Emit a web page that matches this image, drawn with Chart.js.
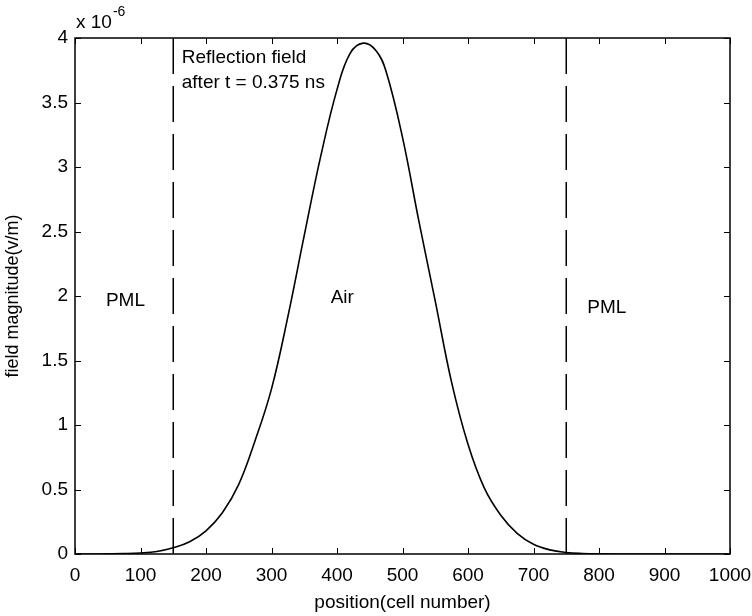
<!DOCTYPE html>
<html>
<head>
<meta charset="utf-8">
<script src="https://cdn.jsdelivr.net/npm/chart.js@4"></script>
<style>
  html, body { margin: 0; padding: 0; background: #fff; }
  #wrap { width: 752px; height: 616px; }
</style>
</head>
<body>
<div id="wrap"><canvas id="fieldChart" width="752" height="616"></canvas></div>
<script>
// position along the grid (cell number)
const positions = [0, 25, 50, 75, 100, 125, 150, 175, 200, 225, 250, 275, 300, 325, 350, 375, 400, 420, 440, 460, 475, 500, 525, 550, 575, 600, 625, 650, 675, 700, 725, 750, 775, 800, 850, 900, 1000];
// field magnitude, in units of 1e-6 v/m
const magnitude = [0, 0, 0.001, 0.003, 0.008, 0.02, 0.048, 0.095, 0.18, 0.32, 0.54, 0.88, 1.28, 1.84, 2.47, 3.08, 3.60, 3.88, 3.96, 3.90, 3.74, 3.23, 2.58, 1.96, 1.33, 0.85, 0.51, 0.30, 0.16, 0.075, 0.032, 0.012, 0.004, 0.001, 0, 0, 0];
// PML boundaries
const boundaries = [150, 750];
const xTicks = [0, 100, 200, 300, 400, 500, 600, 700, 800, 900, 1000];
const yTicks = [0, 0.5, 1, 1.5, 2, 2.5, 3, 3.5, 4];

const FONT = "'Liberation Sans', Arial, Helvetica, sans-serif";

const curve = positions.map((p, i) => ({x: p, y: magnitude[i]}));
const boundaryLines = boundaries.map(b => ({
    data: [{x: b, y: 0}, {x: b, y: 4}],
    borderColor: '#000',
    borderWidth: 1.5,
    borderDash: [36, 12],
    pointRadius: 0,
    fill: false
}));

// box, inward ticks and text annotations, matlab style
const matlabBox = {
    id: 'matlabBox',
    afterDraw(chart) {
        const ctx = chart.ctx;
        const a = chart.chartArea;
        const xs = chart.scales.x, ys = chart.scales.y;
        ctx.save();
        ctx.strokeStyle = '#000';
        ctx.lineWidth = 1.5;
        ctx.strokeRect(a.left, a.top, a.right - a.left, a.bottom - a.top);
        ctx.lineWidth = 1;
        ctx.beginPath();
        xTicks.forEach(t => {
            const px = Math.round(xs.getPixelForValue(t)) + 0.5;
            ctx.moveTo(px, a.bottom); ctx.lineTo(px, a.bottom - 6);
            ctx.moveTo(px, a.top); ctx.lineTo(px, a.top + 6);
        });
        yTicks.forEach(t => {
            const py = Math.round(ys.getPixelForValue(t)) + 0.5;
            ctx.moveTo(a.left, py); ctx.lineTo(a.left + 6, py);
            ctx.moveTo(a.right, py); ctx.lineTo(a.right - 6, py);
        });
        ctx.stroke();

        ctx.fillStyle = '#000';
        ctx.font = '19px ' + FONT;
        ctx.textBaseline = 'middle';
        ctx.textAlign = 'center';
        ctx.fillText('PML', xs.getPixelForValue(77), ys.getPixelForValue(1.96));
        ctx.fillText('Air', xs.getPixelForValue(408), ys.getPixelForValue(1.99));
        ctx.fillText('PML', xs.getPixelForValue(812), ys.getPixelForValue(1.91));
        ctx.textAlign = 'left';
        ctx.textBaseline = 'alphabetic';
        ctx.fillText('Reflection field', xs.getPixelForValue(163), ys.getPixelForValue(3.81));
        ctx.fillText('after t = 0.375 ns', xs.getPixelForValue(163), ys.getPixelForValue(3.61));

        // exponent above the y axis
        ctx.fillText('x 10', a.left + 1, a.top - 10);
        const w = ctx.measureText('x 10').width;
        ctx.font = '14px ' + FONT;
        ctx.fillText('-6', a.left + 2 + w, a.top - 22);
        ctx.restore();
    }
};

new Chart(document.getElementById('fieldChart').getContext('2d'), {
    type: 'line',
    data: {
        datasets: [{
            data: curve,
            borderColor: '#000',
            borderWidth: 1.6,
            pointRadius: 0,
            tension: 0.4,
            fill: false
        }, ...boundaryLines]
    },
    options: {
        responsive: false,
        animation: false,
        layout: {padding: {top: 38, right: 0, left: 0, bottom: 0}},
        plugins: {legend: {display: false}, tooltip: {enabled: false}},
        scales: {
            x: {
                type: 'linear',
                min: 0,
                max: 1000,
                afterBuildTicks: s => { s.ticks = xTicks.map(v => ({value: v})); },
                afterFit: s => { s.height = 62; s.paddingRight = 22; s.paddingLeft = 0; },
                grid: {display: false, drawTicks: false},
                border: {display: false},
                ticks: {
                    color: '#000',
                    padding: 10,
                    maxRotation: 0,
                    font: {family: FONT, size: 19},
                    callback: v => String(v)
                },
                title: {
                    display: true,
                    text: 'position(cell number)',
                    color: '#000',
                    padding: {top: 0, bottom: 2},
                    font: {family: FONT, size: 19}
                }
            },
            y: {
                type: 'linear',
                min: 0,
                max: 4,
                afterBuildTicks: s => { s.ticks = yTicks.map(v => ({value: v})); },
                afterFit: s => { s.width = 75; },
                grid: {display: false, drawTicks: false},
                border: {display: false},
                ticks: {
                    color: '#000',
                    padding: 7,
                    font: {family: FONT, size: 19},
                    callback: v => String(v)
                },
                title: {
                    display: true,
                    text: 'field magnitude(v/m)',
                    color: '#000',
                    padding: {top: 2, bottom: 0},
                    font: {family: FONT, size: 18}
                }
            }
        }
    },
    plugins: [matlabBox]
});
</script>
</body>
</html>
